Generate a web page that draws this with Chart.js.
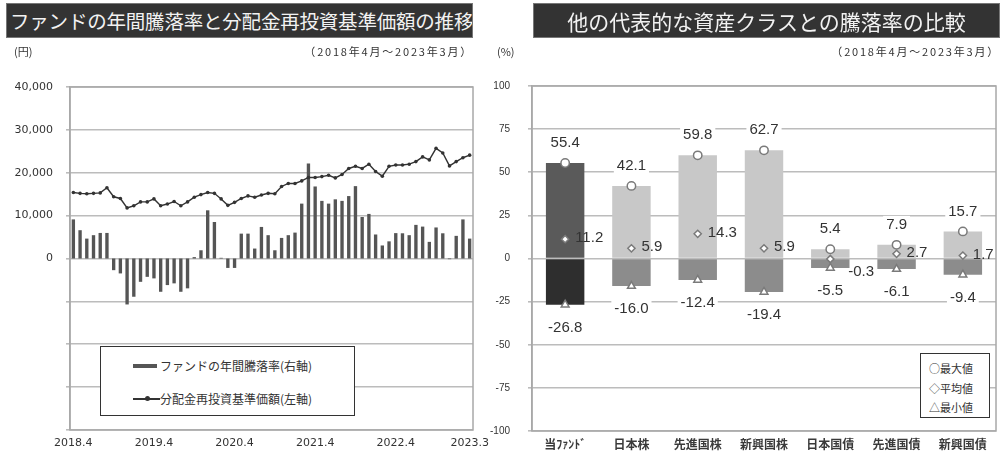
<!DOCTYPE html>
<html>
<head>
<meta charset="utf-8">
<script src="https://cdn.jsdelivr.net/npm/chart.js@4.4.1/dist/chart.umd.min.js"></script>
<style>
  body { margin: 0; width: 1002px; height: 456px; background: #fff; position: relative; overflow: hidden;
         font-family: "Noto Sans CJK JP", sans-serif; color: #333; }
  canvas { position: absolute; top: 0; }
  .title { position: absolute; top: 3px; height: 35px; line-height: 34px; background: #333; color: #f2f2f2;
           white-space: nowrap; box-sizing: border-box; border: 1px solid #777; overflow: hidden; }
  .sub { position: absolute; top: 44px; font-size: 11px; line-height: 14px; white-space: nowrap; color: #333; }
  .box { position: absolute; background: #fff; border: 1px solid #333; box-sizing: border-box; white-space: nowrap; }
</style>
</head>
<body>
<canvas id="left" width="500" height="456" style="left:0"></canvas>
<canvas id="right" width="532" height="456" style="left:470px"></canvas>

<div class="title" style="left:6px;width:467px;font-size:19.5px;padding-left:3px;letter-spacing:-0.2px">ファンドの年間騰落率と分配金再投資基準価額の推移</div>
<div class="title" style="left:533px;width:467px;font-size:21px;text-align:center">他の代表的な資産クラスとの騰落率の比較</div>

<div class="sub" style="left:14px">(円)</div>
<div class="sub" style="right:529px;letter-spacing:1.8px">（2018年4月～2023年3月）</div>
<div class="sub" style="left:497px">(%)</div>
<div class="sub" style="right:2px;letter-spacing:1.8px">（2018年4月～2023年3月）</div>

<div class="box" style="left:100px;top:346px;width:255px;height:70px;font-size:12px">
  <div style="position:absolute;left:32px;top:17px;width:24px;height:4px;background:#555"></div>
  <div style="position:absolute;left:59px;top:10px;line-height:18px">ファンドの年間騰落率(右軸)</div>
  <div style="position:absolute;left:32px;top:51px;width:27px;height:1.5px;background:#333"></div>
  <div style="position:absolute;left:44px;top:49px;width:5px;height:5px;border-radius:50%;background:#333"></div>
  <div style="position:absolute;left:59px;top:43px;line-height:18px">分配金再投資基準価額(左軸)</div>
</div>

<div class="box" style="left:920px;top:353px;width:70px;height:65px;font-size:11px;padding:5px 0 0 8px;line-height:19.5px">
  <div>○最大値</div><div>◇平均値</div><div>△最小値</div>
</div>

<script>
// 左：月次（2018.4〜2023.3）
const months = [
  '2018.4','2018.5','2018.6','2018.7','2018.8','2018.9','2018.10','2018.11','2018.12',
  '2019.1','2019.2','2019.3','2019.4','2019.5','2019.6','2019.7','2019.8','2019.9','2019.10','2019.11','2019.12',
  '2020.1','2020.2','2020.3','2020.4','2020.5','2020.6','2020.7','2020.8','2020.9','2020.10','2020.11','2020.12',
  '2021.1','2021.2','2021.3','2021.4','2021.5','2021.6','2021.7','2021.8','2021.9','2021.10','2021.11','2021.12',
  '2022.1','2022.2','2022.3','2022.4','2022.5','2022.6','2022.7','2022.8','2022.9','2022.10','2022.11','2022.12',
  '2023.1','2023.2','2023.3'
];
const shownMonths = ['2018.4', '2019.4', '2020.4', '2021.4', '2022.4', '2023.3'];

// 分配金再投資基準価額（円）
const navValues = [
  15400, 15200, 15100, 15200, 15300, 16500, 14400, 14000, 11800, 12300, 13200, 13200,
  13900, 12300, 12700, 13300, 12300, 13200, 14300, 14900, 15400, 15200, 13900, 12400,
  13100, 14000, 14600, 14300, 14800, 15200, 15100, 16800, 17500, 17500, 18100, 18900,
  18900, 19100, 19400, 18800, 19600, 21000, 21500, 21000, 22000, 20300, 19200, 21500,
  21800, 21800, 22000, 22600, 23700, 23000, 25700, 24600, 21600, 22600, 23500, 24100
];

// ファンドの年間騰落率（%）
const fundReturns = [
  22.8, 16.5, 11.6, 13.6, 14.9, 14.9, -6.8, -8.7, -26.8, -22.3, -13.6, -10.7,
  -11.6, -19.4, -15.5, -14.5, -19.4, -17.4, 0.8, 4.8, 28.1, 21.3, 0.4, -5.5,
  -5.5, 14.5, 14.5, 5.8, 18.4, 13.6, 4.8, 12.0, 13.6, 15.1, 32.0, 55.4,
  42.0, 33.6, 32.0, 34.5, 33.6, 36.4, 42.2, 24.2, 26.0, 14.0, 7.6, 10.0,
  14.8, 14.7, 13.6, 19.6, 18.6, 9.7, 18.1, 14.7, -0.4, 13.2, 22.8, 11.6
];

// 右：資産クラス別
const assetClasses = ['当ﾌｧﾝﾄﾞ', '日本株', '先進国株', '新興国株', '日本国債', '先進国債', '新興国債'];
const maxVals  = [55.4, 42.1, 59.8, 62.7, 5.4, 7.9, 15.7];
const meanVals = [11.2, 5.9, 14.3, 5.9, -0.3, 2.7, 1.7];
const minVals  = [-26.8, -16.0, -12.4, -19.4, -5.5, -6.1, -9.4];

Chart.defaults.font.family = '"DejaVu Sans", sans-serif';
Chart.defaults.color = '#333';
Chart.defaults.animation = false;

const gridColor = '#bcbcbc';

const frame = {
  id: 'frame',
  afterDatasetsDraw(chart) {
    const { ctx, chartArea: a } = chart;
    ctx.save();
    ctx.strokeStyle = '#a8a8a8';
    ctx.lineWidth = 1.5;
    ctx.strokeRect(a.left, a.top, a.right - a.left, a.bottom - a.top);
    ctx.restore();
  }
};

new Chart(document.getElementById('left'), {
  data: {
    labels: months,
    datasets: [
      { type: 'line', label: '分配金再投資基準価額(左軸)', data: navValues, yAxisID: 'y',
        borderColor: '#333', borderWidth: 1.4, pointRadius: 1.8, pointBackgroundColor: '#333',
        pointBorderWidth: 0, order: 0 },
      { type: 'bar', label: 'ファンドの年間騰落率(右軸)', data: fundReturns, yAxisID: 'y1',
        backgroundColor: '#555', barPercentage: 0.5, categoryPercentage: 1, order: 1 },
    ],
  },
  options: {
    responsive: false,
    layout: { padding: { top: 87, right: 27 } },
    plugins: { legend: { display: false }, tooltip: { enabled: false } },
    scales: {
      x: {
        offset: true,
        grid: { display: false, drawTicks: false },
        border: { display: false },
        ticks: { autoSkip: false, maxRotation: 0, padding: 7, font: { size: 11 },
                 callback: (v, i) => shownMonths.includes(months[i]) ? months[i] : '' },
        afterFit: s => { s.height = 26; },
      },
      y: {
        min: -40000, max: 40000,
        ticks: { stepSize: 10000, padding: 13, font: { size: 11 },
                 callback: v => v >= 0 ? v.toLocaleString('en-US') : '' },
        grid: { color: gridColor, lineWidth: 1.6, tickLength: 4 },
        border: { color: '#a8a8a8', width: 1.5 },
        afterFit: s => { s.width = 70; },
      },
      y1: { display: false, position: 'right', min: -100, max: 100 },
    },
  },
  plugins: [frame],
});

const valueLabels = {
  id: 'valueLabels',
  afterDatasetsDraw(chart) {
    const ctx = chart.ctx;
    ctx.save();
    ctx.font = '15px "Liberation Sans", sans-serif';
    ctx.textBaseline = 'middle';
    const put = (txt, x, y, align, bg) => {
      ctx.textAlign = align;
      const w = ctx.measureText(txt).width;
      if (bg) {
        const lx = align === 'center' ? x - w / 2 : x;
        ctx.fillStyle = '#fff';
        ctx.fillRect(lx - 3, y - 9, w + 6, 18);
      }
      ctx.fillStyle = '#333';
      ctx.fillText(txt, x, y);
    };
    chart.getDatasetMeta(0).data.forEach((p, i) => put(maxVals[i].toFixed(1), p.x, p.y - 20, 'center', true));
    chart.getDatasetMeta(1).data.forEach((p, i) => {
      const v = meanVals[i];
      if (v < 0) put(v.toFixed(1), p.x + 18, p.y + 13, 'left', false);
      else put(v.toFixed(1), p.x + 10, p.y - 1, 'left', false);
    });
    chart.getDatasetMeta(2).data.forEach((p, i) => put(minVals[i].toFixed(1), p.x, p.y + 23, 'center', true));
    ctx.restore();
  }
};

const marker = { showLine: false, pointBackgroundColor: '#fff', pointBorderColor: '#7a7a7a', pointBorderWidth: 1.5 };

new Chart(document.getElementById('right'), {
  data: {
    labels: assetClasses,
    datasets: [
      { type: 'line', label: '最大値', data: maxVals, pointStyle: 'circle', pointRadius: 4.2, order: 0, ...marker },
      { type: 'line', label: '平均値', data: meanVals, pointStyle: 'rectRot', pointRadius: 3.6, order: 0, ...marker },
      { type: 'line', label: '最小値', data: minVals, pointStyle: 'triangle', pointRadius: 4.5, order: 0, ...marker },
      { type: 'bar', data: maxVals, grouped: false, barPercentage: 0.58, categoryPercentage: 1, order: 2,
        backgroundColor: ctx => ctx.dataIndex === 0 ? '#5a5a5a' : '#c8c8c8' },
      { type: 'bar', data: minVals, grouped: false, barPercentage: 0.58, categoryPercentage: 1, order: 2,
        backgroundColor: ctx => ctx.dataIndex === 0 ? '#2e2e2e' : '#8c8c8c' },
    ],
  },
  options: {
    responsive: false,
    layout: { padding: { top: 86, right: 2 } },
    plugins: { legend: { display: false }, tooltip: { enabled: false } },
    scales: {
      x: {
        offset: true,
        grid: { display: false, drawTicks: false },
        border: { display: false },
        ticks: { padding: 6, maxRotation: 0, autoSkip: false,
                 font: { family: '"Noto Sans CJK JP", sans-serif', size: 12, weight: 'bold' }, color: '#3a3a3a' },
        afterFit: s => { s.height = 25; },
      },
      y: {
        min: -100, max: 100,
        ticks: { stepSize: 25, padding: 18, font: { family: '"Liberation Sans", sans-serif', size: 10 } },
        grid: { color: gridColor, lineWidth: 1.6, tickLength: 4 },
        border: { color: '#a8a8a8', width: 1.5 },
        afterFit: s => { s.width = 62; },
      },
    },
  },
  plugins: [frame, valueLabels],
});
</script>
</body>
</html>
